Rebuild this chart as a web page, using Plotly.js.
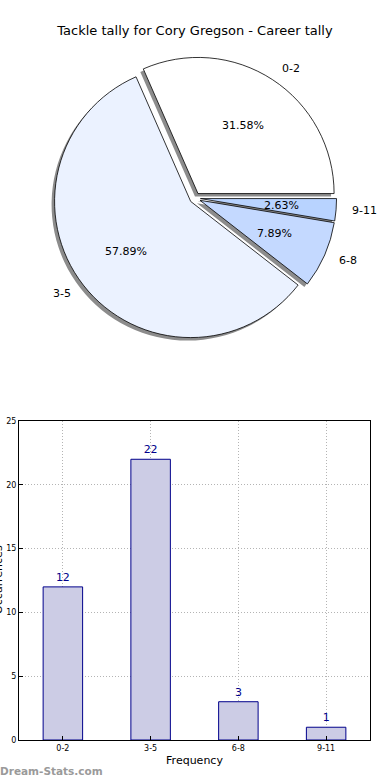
<!DOCTYPE html>
<html><head><meta charset="utf-8">
<script src="https://cdn.plot.ly/plotly-3.0.1.min.js"></script>
<style>html,body{margin:0;padding:0;background:#fff}#chart{width:390px;height:780px}</style>
</head><body><div id="chart"></div>
<script>
const categories = ["0-2", "3-5", "6-8", "9-11"];
const counts = [12, 22, 3, 1];
const sliceColors = ["#FFFFFF", "#EBF2FF", "#C4D9FF", "#B8D3FF"];
const titleText = "Tackle tally for Cory Gregson - Career tally";
const yTickVals = [0, 5, 10, 15, 20, 25];

const F = "DejaVu Sans, sans-serif";
const W = 390, H = 780;
const PULL = 0.04;
const pull = categories.map(() => PULL);
const dom = {x: [0.137, 0.863], y: [0.564, 0.928]};
const sdx = -3/W, sdy = 3/H;
const total = counts.reduce((a, b) => a + b, 0);
// first slice starts at 3 o'clock, slices go counterclockwise (plotly angle measured clockwise from 12)
const rot = 90 - 360 * counts[0] / total;

// pie geometry in pixels (for the text placement)
const cx = (dom.x[0] + dom.x[1]) / 2 * W;
const cy = (1 - (dom.y[0] + dom.y[1]) / 2) * H;
const R = Math.min((dom.x[1] - dom.x[0]) * W, (dom.y[1] - dom.y[0]) * H) / (2 + 2 * PULL);

const annotations = [];
let cum = 0;
counts.forEach((v, i) => {
  const a = 2 * Math.PI * (cum + v / 2) / total;
  cum += v;
  const c = Math.cos(a), s = Math.sin(a);
  const pp = (d) => ({x: (cx + d * R * c) / W, y: 1 - (cy - d * R * s) / H});
  const p1 = pp(PULL + 0.6);
  annotations.push({text: (100 * v / total).toFixed(2) + "%", xref: "paper", yref: "paper", x: p1.x, y: p1.y,
    showarrow: false, xanchor: "center", yanchor: "middle", font: {family: F, size: 11, color: "#000"}});
  const p2 = pp(PULL + 1.1);
  annotations.push({text: categories[i], xref: "paper", yref: "paper", x: p2.x, y: p2.y,
    showarrow: false, xanchor: c >= 0 ? "left" : "right", yanchor: "middle", font: {family: F, size: 11, color: "#000"}});
});

const shadow = {
  type: "pie", values: counts, labels: categories, sort: false,
  direction: "counterclockwise", rotation: rot, pull: pull,
  domain: {x: [dom.x[0] + sdx, dom.x[1] + sdx], y: [dom.y[0] - sdy, dom.y[1] - sdy]},
  marker: {colors: categories.map(() => "#8c8c8c"), line: {width: 0}},
  textinfo: "none", hoverinfo: "skip", showlegend: false
};
const pieMain = {
  type: "pie", values: counts, labels: categories, sort: false,
  direction: "counterclockwise", rotation: rot, pull: pull, domain: dom,
  marker: {colors: sliceColors, line: {color: "#000", width: 0.8}},
  textinfo: "none", showlegend: false
};
const bars = {
  type: "bar", x: categories.map((c, i) => i), y: counts, width: 0.45,
  marker: {color: "#CCCCE5", line: {color: "#00008B", width: 1}},
  text: counts.map(String), textposition: "outside", cliponaxis: false,
  textfont: {family: F, size: 11, color: "#00008B"}, xaxis: "x", yaxis: "y", showlegend: false
};

annotations.push(
  {text: "Occurrences", xref: "paper", yref: "paper", x: -2/W, y: 1 - 580/H, textangle: -90,
   showarrow: false, xanchor: "center", yanchor: "middle", font: {family: F, size: 11, color: "#000"}},
  {text: "<b>Dream-Stats.com</b>", xref: "paper", yref: "paper", x: -2/W, y: 1 - 771/H,
   showarrow: false, xanchor: "left", yanchor: "middle", font: {family: F, size: 10.5, color: "#9a9a9a"}}
);

const gridStyle = {showgrid: true, gridcolor: "#b4b4b4", griddash: "1px,2px", gridwidth: 1};
const layout = {
  width: W, height: H, margin: {l: 0, r: 0, t: 0, b: 0},
  paper_bgcolor: "#fff", plot_bgcolor: "#fff", showlegend: false,
  title: {text: titleText, font: {family: F, size: 13, color: "#000"}, x: 0.5, xanchor: "center", y: 1 - 30/H, yanchor: "middle"},
  xaxis: Object.assign({domain: [19/W, 370/W], range: [-0.5, 3.5], tickvals: [0,1,2,3], ticktext: categories,
    tickfont: {family: F, size: 8, color: "#000"},
    showline: true, linecolor: "#000", linewidth: 1, mirror: true, ticks: "inside", ticklen: 4, tickcolor: "#000",
    zeroline: false, fixedrange: true,
    title: {text: "Frequency", font: {family: F, size: 11, color: "#000"}, standoff: 4}}, gridStyle),
  yaxis: Object.assign({domain: [1 - 740/H, 1 - 421/H], range: [0, 25], tickvals: yTickVals,
    tickfont: {family: F, size: 8, color: "#000"},
    showline: true, linecolor: "#000", linewidth: 1, mirror: true, ticks: "inside", ticklen: 4, tickcolor: "#000",
    zeroline: false, fixedrange: true}, gridStyle),
  annotations: annotations
};
Plotly.newPlot("chart", [shadow, pieMain, bars], layout, {displayModeBar: false, staticPlot: true});
</script></body></html>
